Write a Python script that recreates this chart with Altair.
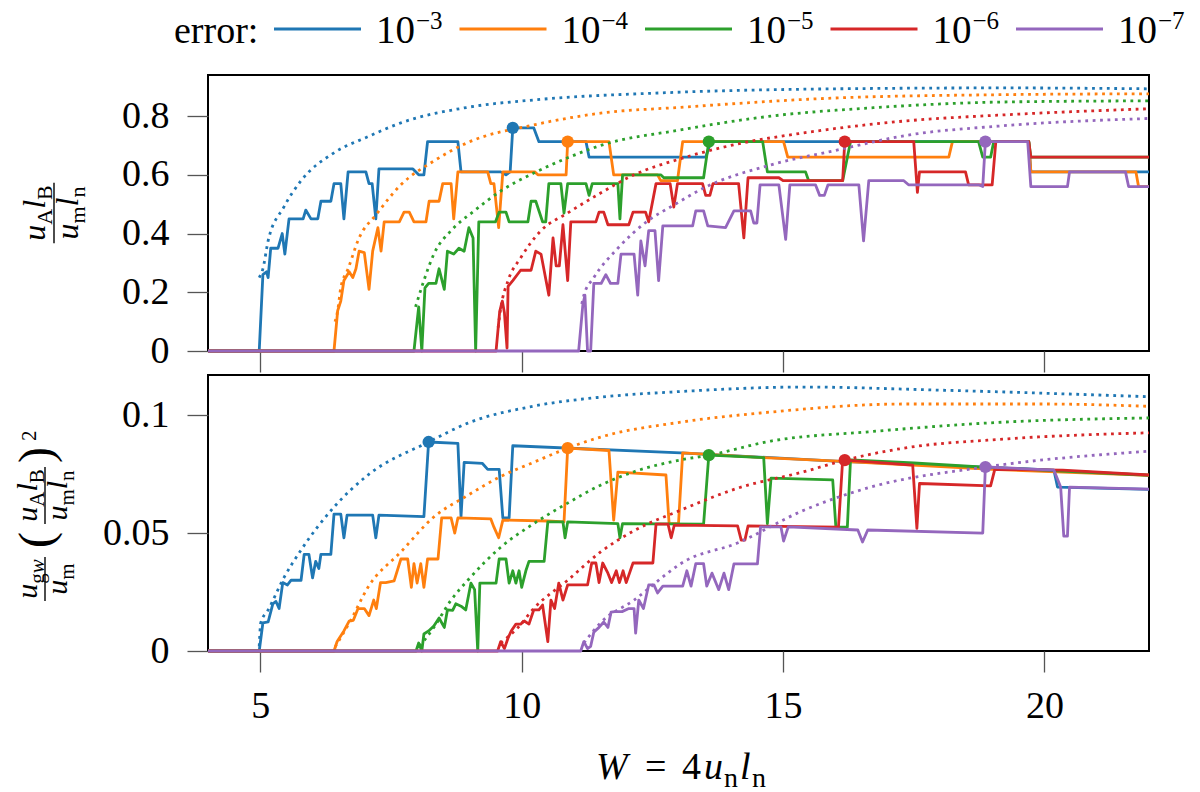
import altair as alt
import pandas as pd

SERIES = ["1e-3", "1e-4", "1e-5", "1e-6", "1e-7"]
COLORS = ["#1f77b4", "#ff7f0e", "#2ca02c", "#d62728", "#9467bd"]
EXPONENTS = ["\u22123", "\u22124", "\u22125", "\u22126", "\u22127"]

# ---- top panel: u_A l_B / (u_m l_n) ----
top_e3 = [(4.0, 0), (4.98, 0), (5.05, 0.26), (5.12, 0.27), (5.15, 0.25), (5.2, 0.35), (5.34, 0.35),
          (5.42, 0.40), (5.47, 0.33), (5.55, 0.45), (5.82, 0.45), (5.87, 0.48), (5.97, 0.45),
          (6.1, 0.45), (6.16, 0.51), (6.35, 0.51), (6.41, 0.57), (6.54, 0.57), (6.6, 0.45),
          (6.68, 0.61), (7.02, 0.61), (7.08, 0.57), (7.14, 0.57), (7.21, 0.45), (7.27, 0.62),
          (7.92, 0.62), (8.03, 0.60), (8.13, 0.60), (8.2, 0.713), (8.78, 0.713), (8.84, 0.61),
          (9.6, 0.61), (9.7, 0.60), (9.78, 0.61), (9.83, 0.76), (10.23, 0.76), (10.33, 0.713),
          (11.23, 0.713), (11.29, 0.66), (13.52, 0.66), (13.62, 0.713), (19.7, 0.713),
          (19.74, 0.61), (22.0, 0.61)]
top_e4 = [(4.0, 0), (6.41, 0), (6.48, 0.137), (6.54, 0.17), (6.6, 0.24), (6.7, 0.27), (6.77, 0.25),
          (6.83, 0.28), (6.89, 0.34), (6.99, 0.335), (7.08, 0.21), (7.15, 0.34), (7.25, 0.42),
          (7.31, 0.34), (7.37, 0.44), (7.66, 0.44), (7.75, 0.473), (7.85, 0.473), (7.94, 0.44),
          (8.17, 0.44), (8.23, 0.51), (8.42, 0.51), (8.49, 0.57), (8.65, 0.57), (8.7, 0.45),
          (8.78, 0.61), (9.35, 0.61), (9.41, 0.57), (9.47, 0.57), (9.56, 0.42), (9.64, 0.61),
          (10.25, 0.61), (10.31, 0.60), (10.85, 0.60), (10.88, 0.713), (11.67, 0.713),
          (11.76, 0.60), (12.6, 0.60), (12.66, 0.58), (12.98, 0.58), (13.08, 0.713),
          (15.01, 0.713), (15.09, 0.66), (18.17, 0.66), (18.24, 0.713), (19.7, 0.713),
          (19.74, 0.61), (21.75, 0.61), (21.8, 0.56), (22.0, 0.56)]
top_e5 = [(4.0, 0), (7.94, 0), (8.03, 0.15), (8.09, 0), (8.15, 0.215), (8.22, 0.23), (8.36, 0.23),
          (8.42, 0.28), (8.52, 0.21), (8.58, 0.34), (8.7, 0.33), (8.8, 0.35), (8.9, 0.34),
          (8.99, 0.42), (9.07, 0.385), (9.12, 0), (9.18, 0.44), (9.5, 0.44), (9.57, 0.473),
          (9.7, 0.473), (9.76, 0.44), (10.12, 0.44), (10.18, 0.51), (10.27, 0.51), (10.4, 0.44),
          (10.46, 0.44), (10.52, 0.57), (10.75, 0.57), (10.81, 0.47), (10.88, 0.57),
          (11.23, 0.57), (11.29, 0.53), (11.35, 0.57), (11.84, 0.57), (11.88, 0.45),
          (11.93, 0.60), (12.66, 0.60), (12.72, 0.59), (13.48, 0.59), (13.58, 0.713),
          (14.61, 0.713), (14.7, 0.61), (15.43, 0.61), (15.49, 0.58), (16.14, 0.58),
          (16.29, 0.713), (18.74, 0.713), (18.82, 0.66), (18.97, 0.66), (19.03, 0.713),
          (19.7, 0.713), (19.74, 0.66), (22.0, 0.66)]
top_e6 = [(4.0, 0), (9.51, 0), (9.58, 0.135), (9.63, 0.17), (9.67, 0.13), (9.72, 0.01),
          (9.74, 0.22), (9.83, 0.24), (9.98, 0.275), (10.18, 0.275), (10.27, 0.34), (10.37, 0.33),
          (10.52, 0.19), (10.6, 0.385), (10.66, 0.29), (10.72, 0.29), (10.79, 0.43), (10.88, 0.24),
          (10.94, 0.44), (11.42, 0.44), (11.48, 0.473), (11.57, 0.473), (11.65, 0.43),
          (12.05, 0.43), (12.13, 0.473), (12.37, 0.473), (12.43, 0.44), (12.57, 0.57),
          (12.84, 0.57), (12.91, 0.49), (12.98, 0.57), (13.46, 0.57), (13.52, 0.53), (13.6, 0.53),
          (13.66, 0.57), (14.15, 0.57), (14.25, 0.385), (14.33, 0.59), (14.92, 0.59), (15.0, 0.58),
          (16.14, 0.58), (16.18, 0.713), (17.5, 0.713), (17.57, 0.54), (17.61, 0.61),
          (18.49, 0.61), (18.55, 0.566), (19.0, 0.566), (19.07, 0.713), (19.7, 0.713),
          (19.74, 0.66), (22.0, 0.66)]
top_e7 = [(4.0, 0), (11.09, 0), (11.17, 0.157), (11.21, 0.19), (11.26, 0), (11.32, 0), (11.38, 0.23),
          (11.52, 0.23), (11.61, 0.26), (11.7, 0.23), (11.84, 0.23), (11.9, 0.33), (12.15, 0.33),
          (12.22, 0.19), (12.28, 0.375), (12.36, 0.29), (12.43, 0.41), (12.55, 0.41), (12.62, 0.24),
          (12.7, 0.426), (13.27, 0.426), (13.33, 0.477), (13.48, 0.477), (13.56, 0.426),
          (13.9, 0.42), (14.06, 0.477), (14.38, 0.477), (14.44, 0.436), (14.5, 0.436),
          (14.56, 0.566), (14.92, 0.566), (15.05, 0.38), (15.13, 0.566), (15.62, 0.566),
          (15.7, 0.53), (15.79, 0.53), (15.86, 0.566), (16.45, 0.566), (16.54, 0.375),
          (16.64, 0.58), (17.31, 0.58), (17.4, 0.566), (18.74, 0.566), (18.82, 0.56),
          (18.87, 0.713), (19.68, 0.713), (19.74, 0.56), (20.44, 0.56), (20.48, 0.61),
          (21.55, 0.61), (21.61, 0.56), (22.0, 0.56)]

top_fit_e3 = [(4.98, 0.25), (5.05, 0.28), (5.15, 0.375), (5.45, 0.49), (5.78, 0.58), (6.41, 0.675),
              (7.06, 0.73), (7.69, 0.777), (8.97, 0.83), (10.23, 0.855), (12.8, 0.88), (16.05, 0.893),
              (19.2, 0.896), (22.0, 0.893)]
top_fit_e4 = [(6.43, 0.1), (6.48, 0.137), (6.54, 0.215), (6.68, 0.28), (6.89, 0.385), (7.21, 0.463),
              (7.69, 0.566), (8.32, 0.647), (8.97, 0.71), (10.23, 0.77), (11.51, 0.81), (13.04, 0.83),
              (16.05, 0.862), (19.2, 0.873), (22.0, 0.876)]
top_fit_e5 = [(7.97, 0.15), (8.13, 0.24), (8.32, 0.33), (8.65, 0.41), (9.09, 0.477), (9.6, 0.545),
              (10.23, 0.606), (10.88, 0.658), (11.51, 0.70), (13.04, 0.753), (14.77, 0.80),
              (16.68, 0.828), (19.2, 0.848), (22.0, 0.852)]
top_fit_e6 = [(9.55, 0.08), (9.6, 0.146), (9.74, 0.24), (9.98, 0.317), (10.37, 0.41), (10.88, 0.47),
              (11.51, 0.538), (12.15, 0.60), (13.04, 0.655), (14.13, 0.705), (15.4, 0.743),
              (17.31, 0.783), (19.2, 0.804), (22.0, 0.825)]
top_fit_e7 = [(11.15, 0.16), (11.19, 0.19), (11.38, 0.25), (11.84, 0.35), (12.41, 0.443),
              (12.91, 0.497), (13.48, 0.555), (14.77, 0.634), (16.05, 0.685), (17.31, 0.733),
              (19.2, 0.767), (22.0, 0.792)]

top_best_x = [9.83, 10.88, 13.58, 16.18, 18.87]
top_best_y = [0.76, 0.713, 0.713, 0.713, 0.713]

# ---- bottom panel: u_gw/u_m (u_A l_B / u_m l_n)^2 ----
bot_e3 = [(4.0, 0), (4.98, 0), (5.05, 0.0119), (5.15, 0.0123), (5.24, 0.020), (5.3, 0.021),
          (5.36, 0.018), (5.43, 0.029), (5.52, 0.028), (5.59, 0.030), (5.78, 0.030), (5.84, 0.041),
          (5.93, 0.041), (6.0, 0.031), (6.06, 0.038), (6.12, 0.035), (6.16, 0.041), (6.35, 0.041),
          (6.41, 0.058), (6.54, 0.058), (6.6, 0.048), (6.66, 0.0576), (7.15, 0.0576), (7.21, 0.048),
          (7.27, 0.0576), (8.13, 0.057), (8.22, 0.0886), (8.78, 0.088), (8.84, 0.057), (8.9, 0.080),
          (9.25, 0.0795), (9.35, 0.077), (9.57, 0.077), (9.64, 0.0564), (9.76, 0.0564),
          (9.83, 0.087), (13.04, 0.084), (16.0, 0.0805), (20.18, 0.0767), (20.25, 0.0695),
          (22.0, 0.0685)]
bot_e4 = [(4.0, 0), (6.41, 0), (6.47, 0.004), (6.6, 0.0085), (6.7, 0.0127), (6.78, 0.013),
          (6.87, 0.018), (6.99, 0.018), (7.08, 0.015), (7.17, 0.0216), (7.22, 0.018), (7.3, 0.029),
          (7.4, 0.029), (7.56, 0.0297), (7.69, 0.039), (7.82, 0.039), (7.89, 0.027), (7.94, 0.037),
          (8.0, 0.0288), (8.07, 0.037), (8.13, 0.027), (8.2, 0.039), (8.4, 0.039), (8.47, 0.0564),
          (8.65, 0.0564), (8.72, 0.050), (8.78, 0.0564), (9.41, 0.0560), (9.47, 0.0525),
          (9.56, 0.048), (9.64, 0.0555), (10.5, 0.0551), (10.81, 0.0547), (10.88, 0.086),
          (11.67, 0.085), (11.76, 0.0555), (11.84, 0.0758), (12.76, 0.0746), (12.82, 0.054),
          (13.0, 0.054), (13.08, 0.084), (14.63, 0.082), (16.05, 0.0805), (19.0, 0.077),
          (22.0, 0.0745)]
bot_e5 = [(4.0, 0), (7.98, 0), (8.03, 0.0034), (8.09, 0), (8.13, 0.0072), (8.22, 0.0085),
          (8.32, 0.0106), (8.42, 0.014), (8.52, 0.010), (8.58, 0.0174), (8.68, 0.0172), (8.74, 0.020),
          (8.84, 0.019), (8.93, 0.0174), (9.03, 0.0288), (9.1, 0.026), (9.16, 0), (9.2, 0.0288),
          (9.51, 0.0288), (9.57, 0.039), (9.7, 0.039), (9.76, 0.0288), (9.83, 0.034), (9.89, 0.0288),
          (9.95, 0.034), (10.0, 0.027), (10.08, 0.034), (10.14, 0.038), (10.43, 0.038),
          (10.5, 0.0547), (10.79, 0.0547), (10.83, 0.048), (10.88, 0.0547), (11.84, 0.054),
          (11.88, 0.048), (11.93, 0.054), (13.48, 0.0538), (13.58, 0.083), (14.63, 0.082),
          (14.7, 0.054), (14.77, 0.0733), (15.95, 0.0725), (16.01, 0.0525), (16.23, 0.0525),
          (16.29, 0.081), (17.5, 0.0797), (18.78, 0.078), (22.0, 0.0745)]
bot_e6 = [(4.0, 0), (9.54, 0), (9.6, 0.004), (9.67, 0.001), (9.74, 0.0055), (9.8, 0.0085),
          (9.89, 0.0114), (9.98, 0.0114), (10.05, 0.0127), (10.14, 0.0114), (10.23, 0.0174),
          (10.33, 0.0174), (10.4, 0.0195), (10.5, 0.004), (10.56, 0.0216), (10.63, 0.018),
          (10.71, 0.0288), (10.79, 0.0216), (10.88, 0.028), (11.26, 0.028), (11.34, 0.0373),
          (11.42, 0.0373), (11.48, 0.029), (11.55, 0.0373), (11.65, 0.033), (11.72, 0.029),
          (11.81, 0.034), (11.87, 0.029), (11.94, 0.034), (12.0, 0.029), (12.13, 0.0373),
          (12.51, 0.0373), (12.57, 0.0538), (12.8, 0.0538), (12.86, 0.048), (12.92, 0.0534),
          (14.13, 0.0530), (14.2, 0.047), (14.27, 0.047), (14.33, 0.053), (16.06, 0.0525),
          (16.14, 0.081), (17.48, 0.0788), (17.56, 0.052), (17.61, 0.071), (18.97, 0.070),
          (19.05, 0.077), (20.35, 0.0767), (22.0, 0.0746)]
bot_e7 = [(4.0, 0), (11.13, 0), (11.19, 0.004), (11.26, 0.001), (11.32, 0.002), (11.38, 0.008),
          (11.48, 0.010), (11.57, 0.0123), (11.65, 0.010), (11.71, 0.0165), (11.78, 0.0167),
          (11.92, 0.0167), (12.05, 0.018), (12.15, 0.018), (12.18, 0.0076), (12.24, 0.0216),
          (12.33, 0.018), (12.43, 0.028), (12.53, 0.028), (12.6, 0.0246), (12.7, 0.0275),
          (13.08, 0.0275), (13.16, 0.034), (13.24, 0.0275), (13.33, 0.037), (13.48, 0.037),
          (13.54, 0.0275), (13.64, 0.033), (13.77, 0.026), (13.87, 0.033), (13.96, 0.026),
          (14.06, 0.0369), (14.51, 0.0369), (14.57, 0.0526), (14.96, 0.0526), (15.01, 0.0466),
          (15.1, 0.0526), (16.43, 0.0513), (16.52, 0.0462), (16.62, 0.0513), (18.82, 0.050),
          (18.87, 0.078), (20.18, 0.0767), (20.31, 0.0695), (20.37, 0.0487), (20.44, 0.0487),
          (20.48, 0.0695), (22.0, 0.0686)]

bot_fit_e3 = [(4.98, 0.002), (5.01, 0.012), (5.15, 0.0174), (5.45, 0.031), (5.78, 0.0428),
              (6.41, 0.061), (7.06, 0.0746), (8.22, 0.0886), (8.97, 0.0966), (10.23, 0.1038),
              (11.51, 0.1076), (13.04, 0.110), (15.4, 0.1119), (17.96, 0.1106), (22.0, 0.1078)]
bot_fit_e4 = [(6.43, 0.0017), (6.73, 0.013), (7.06, 0.027), (7.69, 0.042), (8.32, 0.0568),
              (8.97, 0.066), (9.6, 0.074), (10.23, 0.080), (10.88, 0.086), (11.51, 0.0907),
              (13.04, 0.097), (14.77, 0.1013), (17.31, 0.1047), (20.0, 0.1047), (22.0, 0.1037)]
bot_fit_e5 = [(8.05, 0.002), (8.32, 0.010), (8.65, 0.0216), (8.97, 0.030), (9.6, 0.044),
              (10.23, 0.054), (10.88, 0.0627), (11.51, 0.0703), (12.15, 0.076), (13.04, 0.081),
              (13.58, 0.083), (14.77, 0.089), (16.68, 0.093), (19.2, 0.097), (22.0, 0.0988)]
bot_fit_e6 = [(9.6, 0.0034), (9.93, 0.010), (10.23, 0.018), (10.88, 0.030), (11.51, 0.042),
              (12.15, 0.051), (13.04, 0.0597), (14.13, 0.069), (15.4, 0.076), (16.18, 0.0809),
              (17.31, 0.086), (19.2, 0.0898), (22.0, 0.0925)]
bot_fit_e7 = [(11.19, 0.0034), (11.51, 0.012), (12.15, 0.0216), (12.85, 0.034), (13.04, 0.037),
              (14.13, 0.0458), (15.4, 0.0597), (16.68, 0.0695), (18.87, 0.078), (19.2, 0.079),
              (22.0, 0.0847)]

bot_best_x = [8.22, 10.88, 13.58, 16.18, 18.87]
bot_best_y = [0.0886, 0.0860, 0.0830, 0.0809, 0.0780]

FONT = "Liberation Serif"
W_PX, H_PX = 941, 276


def series_frame(lists):
    rows = []
    for s, pts in zip(SERIES, lists):
        for i, (x, y) in enumerate(pts):
            rows.append({"s": s, "i": i, "x": x, "y": y})
    return pd.DataFrame(rows)


# glyph advance widths (em) for laying out the math labels
W_IT = {"u": 0.5, "l": 0.278, "W": 0.833, "w": 0.667}
W_RM = {"A": 0.722, "B": 0.667, "m": 0.778, "n": 0.5, "g": 0.5, "(": 0.333, ")": 0.333,
        "2": 0.5, "=": 0.564, "4": 0.5}


def run(tokens, fs, sfs):
    out, u = [], 0.0
    for text, it, sub in tokens:
        size = sfs if sub else fs
        out.append((u, -0.22 * fs if sub else 0.0, text, it, size))
        u += sum((W_IT if it else W_RM)[c] for c in text) * size
    return out, u


def frac(num, den, u0, fs, sfs):
    pn, wn = run(num, fs, sfs)
    pdn, wd = run(den, fs, sfs)
    w = max(wn, wd) + 0.15 * fs
    out = [(u0 + (w - wn) / 2 + u, 0.27 * fs + dv, t, it, s) for u, dv, t, it, s in pn]
    out += [(u0 + (w - wd) / 2 + u, -0.68 * fs - 2 + dv, t, it, s) for u, dv, t, it, s in pdn]
    return out, (u0, u0 + w), w


NUM_AB = [("u", True, False), ("A", False, True), ("l", True, False), ("B", False, True)]
DEN_MN = [("u", True, False), ("m", False, True), ("l", True, False), ("n", False, True)]


def rotated(pieces, bars, bx, by):
    txt = pd.DataFrame([{"px": bx - v, "py": by - u, "t": t, "it": it, "fs": s}
                        for u, v, t, it, s in pieces])
    rule = pd.DataFrame([{"px": bx, "py": by - a, "py2": by - b} for a, b in bars])
    return txt, rule


def text_layers(df, angle=0):
    layers = []
    for it in (True, False):
        sub = df[df["it"] == it]
        if len(sub):
            layers.append(alt.Chart(sub).mark_text(
                font=FONT, fontStyle="italic" if it else "normal", align="left",
                baseline="alphabetic", angle=angle, color="black").encode(
                x=alt.X("px:Q", scale=None, axis=None), y=alt.Y("py:Q", scale=None, axis=None),
                text="t:N", size=alt.Size("fs:Q", scale=None, legend=None)))
    return layers


def bar_layer(df):
    return alt.Chart(df).mark_rule(color="black", strokeWidth=1.4).encode(
        x=alt.X("px:Q", scale=None, axis=None), y=alt.Y("py:Q", scale=None, axis=None),
        y2="py2:Q")


# top y label
p1, b1, w1 = frac(NUM_AB, DEN_MN, 0, 32, 22)
top_lab_txt, top_lab_bar = rotated(p1, [b1], 53 - 207, 215 + w1 / 2 - 77)

# bottom y label
fs2, sfs2, pfs = 30, 21, 48
pieces, bars = [], []
pa, ba, wa = frac([("u", True, False), ("g", False, True), ("w", True, True)],
                  [("u", True, False), ("m", False, True)], 0, fs2, sfs2)
pieces += pa; bars.append(ba)
u = wa + 9
pieces.append((u, 5 - 0.26 * pfs, "(", False, pfs)); u += 0.333 * pfs + 8
pb, bb, wb = frac(NUM_AB, DEN_MN, u, fs2, sfs2)
pieces += pb; bars.append(bb)
u += wb + 4
pieces.append((u, 5 - 0.26 * pfs, ")", False, pfs)); u += 0.333 * pfs + 6
pieces.append((u, 9, "2", False, 21))
bot_lab_txt, bot_lab_bar = rotated(pieces, bars, 44 - 207, 600 - 374)

# x title  W = 4 u_n l_n
xt = [(388, 0, "W", True, 38), (437, 0, "=", False, 38), (474, 0, "4", False, 38),
      (496, 0, "u", True, 38), (516, 8, "n", False, 28), (532, 0, "l", True, 38),
      (544, 8, "n", False, 28)]
xtitle = pd.DataFrame([{"px": x, "py": 404 + dy, "t": t, "it": it, "fs": s} for x, dy, t, it, s in xt])

# legend row
leg_txt = [{"px": -34, "py": -32, "t": "error:", "it": False, "fs": 38}]
leg_rules = []
for k, (c, e) in enumerate(zip(COLORS, EXPONENTS)):
    x0 = 66 + 185.5 * k
    leg_rules.append({"px": x0, "px2": x0 + 87, "py": -46, "c": c})
    leg_txt.append({"px": x0 + 102, "py": -32, "t": "10", "it": False, "fs": 39})
    leg_txt.append({"px": x0 + 142, "py": -46, "t": e, "it": False, "fs": 25})
leg_txt = pd.DataFrame(leg_txt)
leg_rules = pd.DataFrame(leg_rules)

color = alt.Color("s:N", scale=alt.Scale(domain=SERIES, range=COLORS), legend=None)


def panel(solid, fit, bx, byv, ydom, yvals, show_x):
    x = alt.X("x:Q", scale=alt.Scale(domain=[4, 22], nice=False, zero=False),
              axis=alt.Axis(values=[5, 10, 15, 20], labels=show_x, title=None, labelPadding=15))
    y = alt.Y("y:Q", scale=alt.Scale(domain=ydom, nice=False, zero=False),
              axis=alt.Axis(values=yvals, format="~g", title=None, labelPadding=18))
    lines = alt.Chart(series_frame(solid)).mark_line(strokeWidth=2.8, strokeJoin="round").encode(
        x=x, y=y, color=color, order=alt.Order("i:Q"))
    dots = alt.Chart(series_frame(fit)).mark_line(
        strokeWidth=2.8, strokeDash=[2.8, 4.6], interpolate="monotone").encode(
        x=x, y=y, color=color, order=alt.Order("i:Q"))
    best = alt.Chart(pd.DataFrame({"s": SERIES, "x": bx, "y": byv})).mark_circle(
        size=150, opacity=1).encode(x=x, y=y, color=color)
    return [lines, dots, best]


top_layers = panel([top_e3, top_e4, top_e5, top_e6, top_e7],
                   [top_fit_e3, top_fit_e4, top_fit_e5, top_fit_e6, top_fit_e7],
                   top_best_x, top_best_y, [0, 0.94], [0, 0.2, 0.4, 0.6, 0.8], False)
top_layers += text_layers(top_lab_txt, 270) + [bar_layer(top_lab_bar)]
top_layers += text_layers(leg_txt)
top_layers.append(alt.Chart(leg_rules).mark_rule(strokeWidth=2.8).encode(
    x=alt.X("px:Q", scale=None, axis=None), x2="px2:Q",
    y=alt.Y("py:Q", scale=None, axis=None), color=alt.Color("c:N", scale=None, legend=None)))
top = alt.layer(*top_layers).properties(width=W_PX, height=H_PX)

bot_layers = panel([bot_e3, bot_e4, bot_e5, bot_e6, bot_e7],
                   [bot_fit_e3, bot_fit_e4, bot_fit_e5, bot_fit_e6, bot_fit_e7],
                   bot_best_x, bot_best_y, [0, 0.117], [0, 0.05, 0.1], True)
bot_layers += text_layers(bot_lab_txt, 270) + [bar_layer(bot_lab_bar)]
bot_layers += text_layers(xtitle)
bottom = alt.layer(*bot_layers).properties(width=W_PX, height=H_PX)

chart = alt.vconcat(top, bottom, spacing=0).properties(
    padding={"left": 3, "top": 0, "right": 0, "bottom": 0}
).configure_view(stroke="black", strokeWidth=2).configure_axis(
    labelFont=FONT, labelFontSize=38, labelColor="black", tickColor="#555555", tickWidth=1.3,
    tickSize=21, domain=False, grid=False
).configure_concat(spacing=0)

chart.save("out.html", embed_options={"renderer": "svg", "actions": False})
